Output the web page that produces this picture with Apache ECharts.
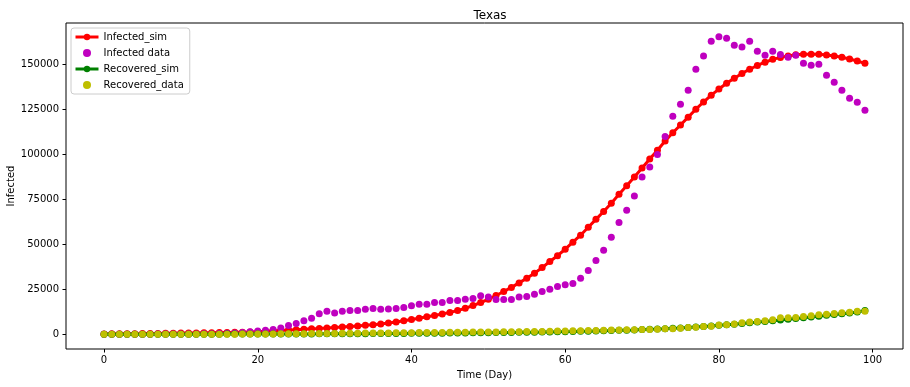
<!DOCTYPE html>
<html>
<head>
<meta charset="utf-8">
<script src="https://cdn.jsdelivr.net/npm/echarts@6/dist/echarts.min.js"></script>
<style>html,body{margin:0;padding:0;background:#fff}#c{width:910px;height:387px}</style>
</head>
<body>
<div id="c"></div>
<script>
var title = 'Texas';
var xTicks = [0, 20, 40, 60, 80, 100];
var yTicks = [0, 25000, 50000, 75000, 100000, 125000, 150000];

var infectedSim = [150,180,210,240,280,320,370,430,480,540,600,660,720,780,840,900,960,1030,1110,1250,
1400,1600,1850,2100,2300,2500,2700,2950,3150,3400,3700,3950,4250,4550,4900,5300,5700,6200,6800,7500,
8200,8900,9700,10400,11200,12100,13100,14400,15900,17600,19400,21500,23700,26000,28500,31100,33900,37000,40400,43600,
47200,51100,55000,59400,63800,68200,72800,77700,82500,87300,92300,97300,102200,107300,111900,116200,120600,125000,129000,132800,
136200,139400,142200,144900,147200,149300,151100,152700,153800,154600,155200,155500,155600,155500,155100,154600,153900,152900,151800,150500];

var infectedData = [0,0,0,0,10,20,30,40,50,70,90,120,160,210,270,350,450,600,900,1300,
1800,2200,2600,3400,4800,6000,7400,8900,11300,12700,11700,12700,13200,13200,13900,14300,13800,14000,14300,14800,
15800,16600,16600,17600,17600,18700,18700,19400,19800,21400,20700,19300,19300,19300,20600,21000,22200,23700,24900,26500,
27400,28200,31100,35400,41000,46600,53800,62100,68800,76800,87300,92900,99900,109900,121100,127700,135500,147200,154600,162800,
165200,164400,160600,159500,162800,157200,155000,157200,155400,153900,155000,150600,149400,150000,143900,140000,135500,131100,128900,124400];

var recoveredSim = [0,0,0,0,0,0,0,0,0,0,10,10,20,20,30,30,40,50,60,70,
80,90,100,110,120,130,140,150,170,190,210,230,250,270,290,310,330,360,390,420,
450,480,510,540,580,620,660,700,740,780,820,870,920,970,1020,1080,1140,1200,1270,1340,
1420,1500,1590,1680,1780,1890,2000,2120,2250,2390,2540,2700,2870,3050,3250,3450,3700,3950,4250,4550,
4900,5200,5550,5900,6300,6700,7100,7500,7900,8300,8700,9100,9550,10000,10450,10900,11350,11800,12300,13100];

var recoveredData = [0,0,0,0,0,0,0,0,0,0,0,0,0,0,0,10,20,30,50,70,
90,110,140,170,200,240,280,320,360,400,440,480,520,560,600,640,680,720,760,800,
840,880,920,960,1000,1040,1080,1120,1160,1200,1240,1280,1320,1360,1400,1450,1500,1550,1620,1700,
1780,1860,1940,2020,2100,2180,2260,2340,2420,2500,2580,2650,2700,2950,3050,3300,3650,3900,4250,4400,
5150,5200,5600,6300,6700,7000,7400,8000,9100,9100,9300,9800,10200,10800,11100,11500,11900,12200,12800,12800];

function pairs(arr) { return arr.map(function (v, i) { return [i, v]; }); }
function plain(v) { return String(v); }

var FONT = 'DejaVu Sans';
var chart = echarts.init(document.getElementById('c'), null, {renderer: 'canvas'});
chart.setOption({
  animation: false,
  backgroundColor: '#fff',
  title: {
    text: title, left: 485, top: 5, textAlign: 'center',
    textStyle: {fontFamily: FONT, fontSize: 12, fontWeight: 'normal', color: '#000'}
  },
  grid: {left: 66, top: 23, right: 7, bottom: 38, containLabel: false, outerBoundsMode: 'none',
         show: true, borderColor: '#000', borderWidth: 1, backgroundColor: 'transparent'},
  legend: {
    orient: 'vertical', left: 71, top: 28,
    padding: [3, 6, 3, 3],
    itemWidth: 23, itemHeight: 8, itemGap: 4,
    borderColor: '#ccc', borderWidth: 1, borderRadius: 3,
    backgroundColor: 'rgba(255,255,255,0.8)',
    lineStyle: {width: 3},
    textStyle: {fontFamily: FONT, fontSize: 10, color: '#000', lineHeight: 12},
    data: ['Infected_sim', 'Infected data', 'Recovered_sim', 'Recovered_data']
  },
  xAxis: {
    type: 'value', min: -4.95, max: 103.95,
    name: 'Time (Day)', nameLocation: 'middle', nameGap: 21, nameMoveOverlap: false,
    nameTextStyle: {fontFamily: FONT, fontSize: 10, color: '#000'},
    axisLine: {show: false, onZero: false},
    splitLine: {show: false},
    axisTick: {show: true, length: 3.5, lineStyle: {color: '#000'}, customValues: xTicks},
    axisLabel: {fontFamily: FONT, fontSize: 10, color: '#000', margin: 6, customValues: xTicks, formatter: plain}
  },
  yAxis: {
    type: 'value', min: -8234, max: 172900,
    name: 'Infected', nameLocation: 'middle', nameGap: 50, nameMoveOverlap: false,
    nameTextStyle: {fontFamily: FONT, fontSize: 10, color: '#000'},
    axisLine: {show: false, onZero: false},
    splitLine: {show: false},
    axisTick: {show: true, length: 3.5, lineStyle: {color: '#000'}, customValues: yTicks},
    axisLabel: {fontFamily: FONT, fontSize: 10, color: '#000', margin: 7, customValues: yTicks, formatter: plain}
  },
  series: [
    {name: 'Infected_sim', type: 'line', z: 2, data: pairs(infectedSim), symbol: 'circle', symbolSize: 7,
     showAllSymbol: true, lineStyle: {color: '#ff0000', width: 3}, itemStyle: {color: '#ff0000'}},
    {name: 'Infected data', type: 'scatter', z: 3, data: pairs(infectedData), symbol: 'circle', symbolSize: 7,
     itemStyle: {color: '#bf00bf', opacity: 1}},
    {name: 'Recovered_sim', type: 'line', z: 4, data: pairs(recoveredSim), symbol: 'circle', symbolSize: 7,
     showAllSymbol: true, lineStyle: {color: '#008000', width: 3}, itemStyle: {color: '#008000'}},
    {name: 'Recovered_data', type: 'scatter', z: 5, data: pairs(recoveredData), symbol: 'circle', symbolSize: 7,
     itemStyle: {color: '#bfbf00', opacity: 1}}
  ]
});
</script>
</body>
</html>
